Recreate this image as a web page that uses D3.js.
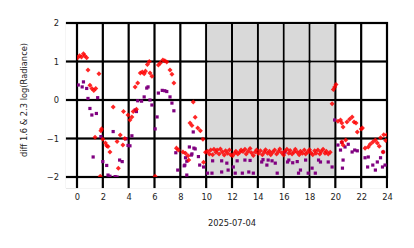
<!DOCTYPE html>
<html>
<head>
<meta charset="utf-8">
<script src="https://cdn.jsdelivr.net/npm/d3@7"></script>
<style>
  body { margin: 0; background: #fff; }
  text { font-family: "DejaVu Sans", sans-serif; }
</style>
</head>
<body>
<svg id="chart" width="414" height="248"></svg>
<script>
// tick labels
const xTicks = [0, 2, 4, 6, 8, 10, 12, 14, 16, 18, 20, 22, 24];
const yTicks = [-2, -1, 0, 1, 2];
const xLabel = "2025-07-04";
const yLabel = "diff 1.6 & 2.3  log(Radiance)";

// night span (hours)
const nightSpan = [9.9, 19.95];

// diff 1.6 & 2.3 log(Radiance): [hour, value]
const redPoints = [
  [0.05, 1.10], [0.2, 1.15], [0.35, 1.12], [0.5, 1.2], [0.6, 1.15], [0.75, 1.1],
  [0.85, 0.78], [1.0, 0.38], [1.15, 0.3], [1.3, 0.25], [1.45, 0.3], [1.7, 0.68],
  [1.4, -0.97], [1.85, -0.8], [1.9, -0.75], [2.0, -1.02], [2.2, -1.12], [2.3, -1.19],
  [2.4, -1.21], [2.55, -1.35], [2.8, -0.18], [3.1, -1.08], [3.35, -0.91], [3.55, -1.17],
  [3.7, -1.0], [3.2, -1.77], [3.6, -0.3], [3.95, -0.39], [4.1, -0.52], [4.25, -0.44],
  [4.35, -0.3], [4.6, -0.24], [4.5, 0.34], [4.7, 0.44], [4.9, 0.7], [5.05, 0.73],
  [5.2, 0.68], [5.3, 0.75], [5.45, 0.92], [5.6, 1.0], [5.65, 0.7], [5.8, 0.62],
  [6.3, 0.91], [6.45, 0.96], [6.65, 1.04], [6.8, 1.02], [6.95, 0.99], [7.2, 0.78],
  [7.35, 0.67], [7.5, 0.44], [6.05, -1.98], [1.8, -1.98],
  [7.7, -1.25], [7.85, -1.3], [8.2, -1.35], [8.4, -1.38], [8.6, -1.45], [8.65, -1.56],
  [8.75, -0.6], [8.9, -0.66], [9.0, -0.05], [9.15, -0.45], [9.35, -0.73], [9.55, -0.8],
  [9.75, -1.02], [9.8, -1.62], [9.95, -1.36],
  [10.1, -1.33], [10.25, -1.4], [10.35, -1.3], [10.5, -1.42], [10.6, -1.28], [10.75, -1.36],
  [10.85, -1.3], [11.0, -1.4], [11.1, -1.27], [11.25, -1.35], [11.4, -1.43], [11.5, -1.32],
  [11.65, -1.38], [11.8, -1.3], [11.9, -1.42], [12.05, -1.45], [12.2, -1.38], [12.3, -1.33],
  [12.45, -1.4], [12.6, -1.36], [12.7, -1.3], [12.85, -1.34], [13.0, -1.28], [13.1, -1.4],
  [13.25, -1.33], [13.4, -1.26], [13.5, -1.37], [13.65, -1.44], [13.8, -1.35], [13.9, -1.3],
  [14.05, -1.39], [14.2, -1.32], [14.35, -1.42], [14.5, -1.35], [14.6, -1.29], [14.75, -1.38],
  [14.9, -1.33], [15.0, -1.42], [15.15, -1.36], [15.3, -1.3], [15.45, -1.4], [15.6, -1.34],
  [15.7, -1.27], [15.85, -1.37], [16.0, -1.43], [16.1, -1.33], [16.25, -1.28], [16.4, -1.38],
  [16.5, -1.31], [16.65, -1.4], [16.8, -1.35], [16.9, -1.28], [17.05, -1.36], [17.2, -1.42],
  [17.3, -1.33], [17.45, -1.38], [17.6, -1.3], [17.7, -1.4], [17.85, -1.35], [18.0, -1.29],
  [18.1, -1.37], [18.25, -1.42], [18.4, -1.32], [18.5, -1.38], [18.65, -1.3], [18.8, -1.4],
  [18.9, -1.34], [19.05, -1.28], [19.2, -1.38], [19.3, -1.33], [19.45, -1.4], [19.6, -1.36],
  [19.75, -0.1], [19.85, 0.27], [19.95, 0.34], [20.05, 0.4],
  [20.2, -0.55], [20.4, -0.52], [20.5, -0.6], [20.6, -0.7], [20.9, -0.57], [21.1, -0.5],
  [21.3, -0.44], [21.45, -0.57], [21.6, -0.6], [21.7, -0.83], [22.0, -0.75], [22.1, -0.73],
  [20.5, -1.09], [20.6, -1.17], [20.8, -1.04], [22.3, -1.25], [22.55, -1.22], [22.7, -1.15],
  [22.9, -1.09], [23.1, -1.04], [23.25, -1.12], [23.4, -1.2], [23.5, -0.98], [23.7, -1.35],
  [23.75, -0.9], [23.9, -1.05], [24.0, -0.9]
];

const purplePoints = [
  [0.1, 0.39], [0.4, 0.34], [0.5, 0.47], [0.75, 0.3], [0.85, 0.04], [1.0, -0.22],
  [1.15, -0.39], [1.5, -0.35], [1.6, 0.06], [2.8, -0.82], [1.25, -1.48], [1.85, -0.95],
  [2.0, -1.6], [2.3, -1.7], [3.3, -1.56], [3.5, -1.6], [3.8, -1.01], [3.95, -1.18],
  [4.1, -1.19], [4.25, -0.93], [4.5, -0.26], [4.6, -0.3], [4.7, -0.02], [2.4, -1.95],
  [2.95, -1.99], [3.1, -2.0], [2.55, -1.98],
  [5.0, -0.03], [5.2, 0.08], [5.4, 0.31], [5.5, 0.34], [5.65, 0.0], [5.8, -0.13],
  [6.05, -0.75], [6.2, -0.44], [6.3, 0.18], [6.6, 0.25], [6.8, 0.24], [6.95, 0.22],
  [7.2, 0.08], [7.35, -0.08], [7.5, -0.28],
  [7.65, -1.37], [7.8, -1.82], [8.3, -1.71], [8.35, -1.69], [8.4, -1.5], [8.5, -1.59],
  [8.7, -1.22], [8.85, -1.43], [8.9, -1.4], [9.0, -0.83], [9.05, -1.25], [9.15, -1.27],
  [9.4, -1.47], [9.5, -1.69], [9.8, -1.74], [8.5, -1.95], [10.1, -1.9],
  [10.5, -1.58], [10.45, -1.9], [11.2, -1.58], [11.2, -1.87], [11.6, -1.64], [11.7, -1.82],
  [12.1, -1.74], [12.25, -1.9], [12.4, -1.58], [12.8, -1.9], [13.0, -1.56], [13.3, -1.87],
  [13.4, -1.57], [13.65, -1.9], [14.3, -1.61], [14.4, -1.55], [14.7, -1.69], [14.8, -1.56],
  [15.1, -1.58], [15.35, -1.64], [15.5, -1.9], [16.3, -1.61], [16.4, -1.56], [16.7, -1.63],
  [17.05, -1.6], [17.15, -1.9], [17.3, -1.82], [17.7, -1.56], [17.9, -1.9], [18.2, -1.77],
  [18.45, -1.9], [18.7, -1.56], [18.85, -1.61], [19.45, -1.61], [19.75, -1.74], [16.1, -1.35],
  [19.95, -0.52], [20.2, -1.17], [20.4, -1.3], [20.5, -1.1], [20.75, -1.22], [20.6, -1.56],
  [20.55, -1.77], [21.0, -1.15], [21.3, -1.35], [21.5, -1.3], [21.7, -1.32], [22.3, -1.5],
  [22.55, -1.48], [22.5, -1.74], [22.9, -1.69], [23.1, -1.82], [23.25, -1.61], [23.5, -1.5],
  [23.65, -1.74], [23.85, -1.69], [23.7, -1.35]
];

const svg = d3.select("#chart");
const margin = { top: 23, right: 27, bottom: 71, left: 77 };
const width = +svg.attr("width") - margin.left - margin.right;
const height = +svg.attr("height") - margin.top - margin.bottom;
const tickLen = 10;
const lw = 1.1; // half grid line width

const x = d3.scaleLinear().domain([0, 24]).range([0, width]);
const y = d3.scaleLinear().domain([-2, 2]).range([height, 0]);

const g = svg.append("g").attr("transform", `translate(${margin.left},${margin.top})`);

// grid cells: the gaps between them form the black grid
const xPairs = d3.pairs(xTicks);
const yPairs = d3.pairs(yTicks);
const cells = xPairs.flatMap(([a, b]) => yPairs.map(([c, d]) => ({
  x: x(a) + lw, w: x(b) - x(a) - 2 * lw,
  y: y(d) + lw, h: y(c) - y(d) - 2 * lw
})));

const defs = svg.append("defs");
defs.append("clipPath").attr("id", "clip")
  .append("rect").attr("width", width).attr("height", height);
defs.append("clipPath").attr("id", "cellclip")
  .selectAll("rect").data(cells).join("rect")
  .attr("x", d => d.x).attr("y", d => d.y)
  .attr("width", d => d.w).attr("height", d => d.h);

// black backing, including the tick stubs left and below
g.append("rect")
  .attr("x", -tickLen - lw).attr("y", -lw)
  .attr("width", width + tickLen + 2 * lw)
  .attr("height", height + tickLen + 2 * lw)
  .attr("fill", "#000");

// white cells inside the frame
g.append("g").selectAll("rect").data(cells).join("rect")
  .attr("x", d => d.x).attr("y", d => d.y)
  .attr("width", d => d.w).attr("height", d => d.h)
  .attr("fill", "#fff");

// white gaps between tick stubs on the left
const leftGaps = yPairs.map(([c, d]) => ({ y0: y(d) + lw, y1: y(c) - lw }))
  .concat([{ y0: y(-2) + lw, y1: height + tickLen + lw }]);
g.append("g").selectAll("rect").data(leftGaps).join("rect")
  .attr("x", -tickLen - lw - 0.5).attr("y", d => d.y0)
  .attr("width", tickLen + 0.5).attr("height", d => d.y1 - d.y0)
  .attr("fill", "#fff");

// white gaps between tick stubs at the bottom
g.append("g").selectAll("rect").data(xPairs).join("rect")
  .attr("x", d => x(d[0]) + lw).attr("y", height + lw)
  .attr("width", d => x(d[1]) - x(d[0]) - 2 * lw)
  .attr("height", tickLen + 0.5)
  .attr("fill", "#fff");
g.append("rect")
  .attr("x", width + lw).attr("y", height + lw)
  .attr("width", 2).attr("height", tickLen + 0.5)
  .attr("fill", "#fff");

// night shading, only inside the cells
g.append("rect")
  .attr("clip-path", "url(#cellclip)")
  .attr("x", x(nightSpan[0]))
  .attr("y", 0)
  .attr("width", x(nightSpan[1]) - x(nightSpan[0]))
  .attr("height", height)
  .attr("fill", "#d9d9d9");

// tick labels
const xAxis = g.append("g")
  .attr("transform", `translate(0,${height})`)
  .call(d3.axisBottom(x).tickValues(xTicks).tickSize(0).tickPadding(0))
  .call(a => a.select(".domain").remove());
xAxis.selectAll(".tick line").remove();
xAxis.selectAll(".tick text")
  .attr("y", 17).attr("dy", "0.71em").attr("font-size", 8.3).attr("fill", "#222");

const yAxis = g.append("g")
  .call(d3.axisLeft(y).tickValues(yTicks).tickSize(0)
    .tickFormat(d => d < 0 ? "\u2212" + Math.abs(d) : d))
  .call(a => a.select(".domain").remove());
yAxis.selectAll(".tick line").remove();
yAxis.selectAll(".tick text")
  .attr("x", -18).attr("font-size", 8.3).attr("fill", "#222");

// points
const plot = g.append("g").attr("clip-path", "url(#clip)");

plot.selectAll(".purple")
  .data(purplePoints)
  .join("rect")
  .attr("class", "purple")
  .attr("x", d => x(d[0]) - 1.6)
  .attr("y", d => y(d[1]) - 1.6)
  .attr("width", 3.2).attr("height", 3.2)
  .attr("fill", "purple");

plot.selectAll(".red")
  .data(redPoints)
  .join("path")
  .attr("class", "red")
  .attr("d", d3.symbol(d3.symbolSquare, 12.5))
  .attr("transform", d => `translate(${x(d[0])},${y(d[1])}) rotate(45)`)
  .attr("fill", "red")
  .attr("fill-opacity", 0.85);

// labels
svg.append("text")
  .attr("x", margin.left + width / 2)
  .attr("y", 226)
  .attr("text-anchor", "middle")
  .attr("font-size", 8.3)
  .attr("fill", "#222")
  .text(xLabel);

svg.append("text")
  .attr("transform", `translate(27,${margin.top + height / 2}) rotate(-90)`)
  .attr("text-anchor", "middle")
  .attr("font-size", 8.3)
  .attr("fill", "#222")
  .text(yLabel);
</script>
</body>
</html>
